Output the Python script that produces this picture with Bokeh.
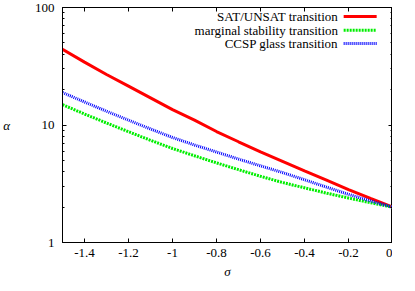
from bokeh.plotting import figure
from bokeh.models import FixedTicker, LinearAxis, LogAxis, Label, Range1d
from bokeh.embed import file_html
from bokeh.resources import INLINE
import math

# ---- data ----
sigma = [-1.5, -1.4, -1.3, -1.2, -1.1, -1.0, -0.9, -0.8, -0.7, -0.6,
         -0.5, -0.4, -0.3, -0.2, -0.1, 0.0]
alpha_sat = [44.0, 34.3, 26.9, 21.4, 17.0, 13.5, 11.0, 8.8, 7.2, 5.9,
             4.9, 4.07, 3.39, 2.82, 2.37, 2.0]
alpha_marg = [14.9, 12.4, 10.4, 8.77, 7.41, 6.31, 5.47, 4.76, 4.17, 3.66,
              3.24, 2.92, 2.63, 2.39, 2.18, 2.0]
alpha_ccsp = [18.9, 15.7, 13.1, 11.0, 9.25, 7.83, 6.76, 5.89, 5.13, 4.49,
              3.94, 3.42, 2.96, 2.57, 2.26, 2.0]
series_names = ["SAT/UNSAT transition", "marginal stability transition",
                "CCSP glass transition"]
x_ticks = [-1.4, -1.2, -1.0, -0.8, -0.6, -0.4, -0.2, 0.0]
x_tick_labels = ["-1.4", "-1.2", "-1", "-0.8", "-0.6", "-0.4", "-0.2", "0"]
y_ticks = [1, 10, 100]
y_tick_labels = ["1", "10", "100"]
y_minor = [2, 3, 4, 5, 6, 7, 8, 9, 20, 30, 40, 50, 60, 70, 80, 90]

FONT = "Liberation Serif"
FS = "13px"

x0, x1 = -1.5, 0.0
y0, y1 = 1.0, 100.0

p = figure(frame_width=330, frame_height=235, output_backend="svg", toolbar_location=None,
           y_axis_type="log", x_range=Range1d(x0, x1), y_range=Range1d(y0, y1),
           min_border_left=0, min_border_right=0, min_border_top=0,
           min_border_bottom=0)
p.outline_line_color = "black"
p.outline_line_width = 1
p.xgrid.visible = False
p.ygrid.visible = False
p.background_fill_color = "white"
p.border_fill_color = "white"

# bottom axis
xa = p.xaxis[0]
xa.ticker = FixedTicker(ticks=x_ticks)
xa.major_label_overrides = {t: l for t, l in zip(x_ticks, x_tick_labels)}
xa.major_tick_in = 4
xa.major_tick_out = 0
xa.minor_tick_in = 0
xa.minor_tick_out = 0
xa.axis_line_color = "black"
xa.major_label_text_font = FONT
xa.major_label_text_font_size = FS
xa.major_label_text_color = "black"
xa.major_label_standoff = 6
xa.axis_label = "σ"
xa.axis_label_text_font = FONT
xa.axis_label_text_font_style = "italic"
xa.axis_label_text_font_size = FS
xa.axis_label_text_color = "black"
xa.axis_label_standoff = 4

# left axis
ya = p.yaxis[0]
ya.ticker = FixedTicker(ticks=y_ticks, minor_ticks=y_minor)
ya.major_label_overrides = {t: l for t, l in zip(y_ticks, y_tick_labels)}
ya.major_tick_in = 4
ya.major_tick_out = 0
ya.minor_tick_in = 2
ya.minor_tick_out = 0
ya.axis_line_color = "black"
ya.major_label_text_font = FONT
ya.major_label_text_font_size = FS
ya.major_label_text_color = "black"
ya.major_label_standoff = 8
ya.axis_label = "α"
ya.axis_label_text_font = FONT
ya.axis_label_text_font_style = "italic"
ya.axis_label_text_font_size = FS
ya.axis_label_text_color = "black"
ya.axis_label_standoff = 22
ya.axis_label_orientation = "horizontal"

# mirror axes (top / right), ticks only
top = LinearAxis(ticker=FixedTicker(ticks=x_ticks), major_tick_in=4, major_tick_out=0,
                 minor_tick_in=0, minor_tick_out=0, major_label_text_font_size="1px",
                 major_label_text_color=None, major_label_standoff=0,
                 axis_line_color="black")
p.add_layout(top, "above")
# invisible spacer axis giving the top margin above the frame
top_space = LinearAxis(ticker=FixedTicker(ticks=x_ticks), major_tick_in=0, major_tick_out=7,
                       major_tick_line_color=None, minor_tick_in=0, minor_tick_out=0,
                       major_label_text_font_size="1px", major_label_text_color=None,
                       major_label_standoff=0, axis_line_color=None)
p.add_layout(top_space, "above")
right = LogAxis(ticker=FixedTicker(ticks=y_ticks, minor_ticks=y_minor), major_tick_in=4,
                major_tick_out=0, minor_tick_in=2, minor_tick_out=0,
                major_label_text_font_size="1px", major_label_text_color=None,
                major_label_standoff=0, axis_line_color="black")
p.add_layout(right, "right")

styles = [
    dict(color="#ff0000", width=3, dash="solid"),
    dict(color="#00ee00", width=3, dash="2 1"),
    dict(color="#0000ff", width=3, dash="1 1"),
]
series = [alpha_sat, alpha_marg, alpha_ccsp]
for ys, st in zip(series, styles):
    p.line(sigma, ys, line_color=st["color"], line_width=st["width"],
           line_dash=st["dash"])

# manual gnuplot-style legend (text right, sample on the right side)
def fx(f):
    return x0 + f * (x1 - x0)
def fy(f):
    return 10 ** (math.log10(y0) + f * (math.log10(y1) - math.log10(y0)))

rows = [0.962, 0.903, 0.847]
for name, st, r in zip(series_names, styles, rows):
    p.line([fx(0.852), fx(0.952)], [fy(r), fy(r)], line_color=st["color"],
           line_width=st["width"], line_dash=st["dash"])
    p.add_layout(Label(x=fx(0.835), y=fy(r), text=name, text_align="right",
                       text_baseline="middle", text_font=FONT, text_font_size=FS,
                       text_color="black"))

open("out.html", "w").write(file_html(p, INLINE))
